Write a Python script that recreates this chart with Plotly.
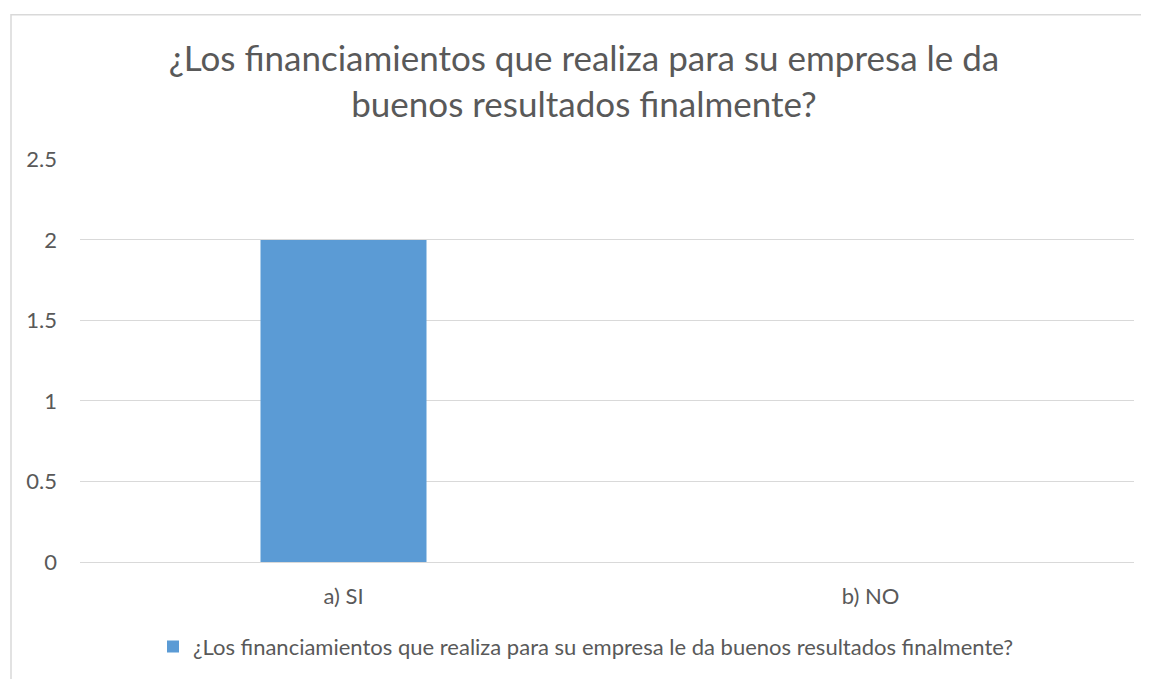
import plotly.graph_objects as go

categories = ["a) SI", "b) NO"]
values = [2, 0]
series_name = "¿Los financiamientos que realiza para su empresa le da buenos resultados finalmente?"
title_text = "¿Los financiamientos que realiza para su empresa le da<br>buenos resultados finalmente?"
y_ticks = [0, 0.5, 1, 1.5, 2, 2.5]

# page body has an 8px margin; figure is sized so it fits the window
OFF = 8
W, H = 1149 - OFF, 679 - OFF
L, T = 80 - OFF, 159 - OFF
R = W - (1134 - OFF)
B = H - (564 - OFF)
pw, ph = W - L - R, H - T - B

def px_x(x):
    return (x - OFF - L) / pw

def px_y(y):
    return (H - B - (y - OFF)) / ph

FONT = "Lato, 'Open Sans', sans-serif"
GREY = "#595959"

fig = go.Figure()
fig.add_trace(go.Bar(
    x=categories, y=values, name=series_name,
    marker=dict(color="#5b9bd5", line=dict(width=0)),
    showlegend=True,
))

fig.update_layout(
    width=W, height=H,
    margin=dict(l=L, r=R, t=T, b=B),
    paper_bgcolor="white", plot_bgcolor="white",
    bargap=0.685,
    font=dict(family=FONT, color=GREY, size=22),
    title=dict(text=title_text, x=(584 - OFF) / W, xanchor="center", y=1 - (71 - OFF) / H, yanchor="top",
               yref="container", font=dict(size=35, color=GREY, family=FONT)),
    legend=dict(orientation="h", x=px_x(586), xanchor="center", y=px_y(649), yanchor="middle",
                font=dict(size=22, color=GREY), itemwidth=30, traceorder="normal"),
    xaxis=dict(showgrid=False, showline=False, zeroline=False, ticks="",
               ticklabelstandoff=19, tickfont=dict(size=22, color=GREY)),
    yaxis=dict(range=[0, 2.503], tickvals=y_ticks, ticktext=["0", "0.5", "1", "1.5", "2", "2.5"],
               showgrid=True, gridcolor="#d9d9d9", gridwidth=1,
               zeroline=True, zerolinecolor="#d9d9d9", zerolinewidth=1,
               showline=False, ticks="", ticklabelstandoff=22,
               tickfont=dict(size=22, color=GREY)),
    shapes=[dict(type="rect", xref="paper", yref="paper",
                 x0=px_x(11), x1=px_x(1170), y0=px_y(700), y1=px_y(14),
                 line=dict(color="#d9d9d9", width=1.5), fillcolor="rgba(0,0,0,0)", layer="below")],
)

fig.write_html("out.html")
